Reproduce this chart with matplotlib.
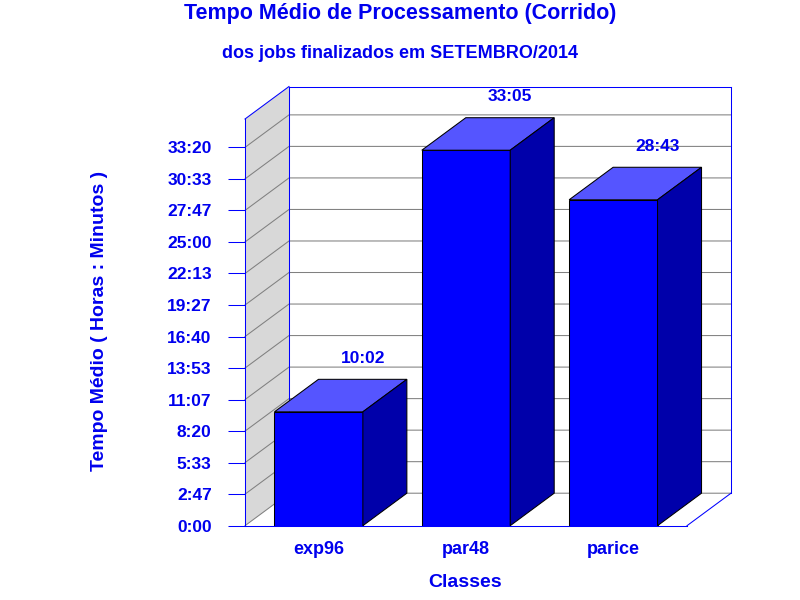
import matplotlib
matplotlib.use("Agg")
import matplotlib.pyplot as plt
from matplotlib.patches import Polygon

# dados: tempo medio (segundos) por classe
classes = ["exp96", "par48", "parice"]
tempo_seg = [36120, 119100, 103380]   # 10:02, 33:05, 28:43
tick_step = 10000
tick_max = 120000
y_max = 129000

BLUE = "#0000ff"
TOP = "#5555ff"
SIDE = "#0000aa"
WALL = "#d8d8d8"
GRID = "#808080"
TXT = "#0000ee"


def hmm(s):
    m = int(round(s / 60.0))
    return f"{m // 60}:{m % 60:02d}"


plt.rcParams["font.family"] = ["Liberation Sans", "DejaVu Sans"]
plt.rcParams["font.weight"] = "bold"

W, H = 800, 600
fig = plt.figure(figsize=(8, 6), dpi=100)
x0, x1, yb, yt = 245, 687, 525.7, 119
ax = fig.add_axes([x0 / W, 1 - yb / H, (x1 - x0) / W, (yb - yt) / H])
n = len(classes)
xa, xb = -0.5, n - 0.5
ax.set_xlim(xa, xb)
ax.set_ylim(0, y_max)

# profundidade 3D (em pixels -> unidades de dados)
ddx = 44 / (x1 - x0) * n
ddy = 32.5 / (yb - yt) * y_max
lw = 0.75

# parede lateral
ax.add_patch(Polygon([(xa, 0), (xa + ddx, ddy), (xa + ddx, y_max + ddy), (xa, y_max)],
                     closed=True, fc=WALL, ec="none", clip_on=False, zorder=0))
# parede de fundo
ax.add_patch(Polygon([(xa + ddx, ddy), (xb + ddx, ddy), (xb + ddx, y_max + ddy), (xa + ddx, y_max + ddy)],
                     closed=True, fc="white", ec="none", clip_on=False, zorder=0))

ticks = list(range(0, tick_max + 1, tick_step))
for t in ticks:
    ax.plot([xa, xa + ddx, xb + ddx], [t, t + ddy, t + ddy], color=GRID, lw=lw,
            clip_on=False, zorder=1)

# contornos azuis
for xs, ys in [([xa, xa + ddx], [y_max, y_max + ddy]),
               ([xa + ddx, xb + ddx], [y_max + ddy, y_max + ddy]),
               ([xa + ddx, xa + ddx], [ddy, y_max + ddy]),
               ([xb + ddx, xb + ddx], [ddy, y_max + ddy]),
               ([xb, xb + ddx], [0, ddy])]:
    ax.plot(xs, ys, color=BLUE, lw=lw, clip_on=False, zorder=2)

# barras 3D
w = 0.6
for i, v in enumerate(tempo_seg):
    l, r = i - w / 2, i + w / 2
    ax.bar(i, v, width=w, color=BLUE, edgecolor="black", lw=lw, zorder=3)
    ax.add_patch(Polygon([(l, v), (l + ddx, v + ddy), (r + ddx, v + ddy), (r, v)],
                         closed=True, fc=TOP, ec="black", lw=lw, clip_on=False, zorder=3))
    ax.add_patch(Polygon([(r, 0), (r + ddx, ddy), (r + ddx, v + ddy), (r, v)],
                         closed=True, fc=SIDE, ec="black", lw=lw, clip_on=False, zorder=3))
    ax.annotate(hmm(v), xy=(i + ddx, v + ddy), xytext=(0, 15), textcoords="offset points",
                ha="center", va="center", color=TXT, fontsize=12.5, fontweight="bold",
                annotation_clip=False)

ax.set_yticks(ticks)
ax.set_yticklabels([hmm(t) for t in ticks])
ax.set_xticks(range(n))
ax.set_xticklabels(classes)
ax.tick_params(axis="y", direction="out", length=12, width=lw, color=BLUE,
               labelcolor=TXT, labelsize=12.5, pad=12)
ax.tick_params(axis="x", length=0, labelcolor=TXT, labelsize=13, pad=11)
for s in ["top", "right"]:
    ax.spines[s].set_visible(False)
for s in ["left", "bottom"]:
    ax.spines[s].set_color(BLUE)
    ax.spines[s].set_linewidth(lw)
    ax.spines[s].set_zorder(4)
ax.patch.set_visible(False)

fig.text(400.5 / W, 1 - 19.5 / H, "Tempo Médio de Processamento (Corrido)",
         ha="center", va="baseline", color=TXT, fontsize=15.5, fontweight="bold")
fig.text(400.5 / W, 1 - 57.5 / H, "dos jobs finalizados em SETEMBRO/2014",
         ha="center", va="baseline", color=TXT, fontsize=13, fontweight="bold")
fig.text(104 / W, 1 - 321 / H, "Tempo Médio ( Horas : Minutos )", rotation=90,
         rotation_mode="anchor", ha="center", va="baseline", color=TXT,
         fontsize=14, fontweight="bold")
fig.text(465 / W, 1 - 587.3 / H, "Classes", ha="center", va="baseline",
         color=TXT, fontsize=14, fontweight="bold")

fig.savefig("out.png", dpi=100)
